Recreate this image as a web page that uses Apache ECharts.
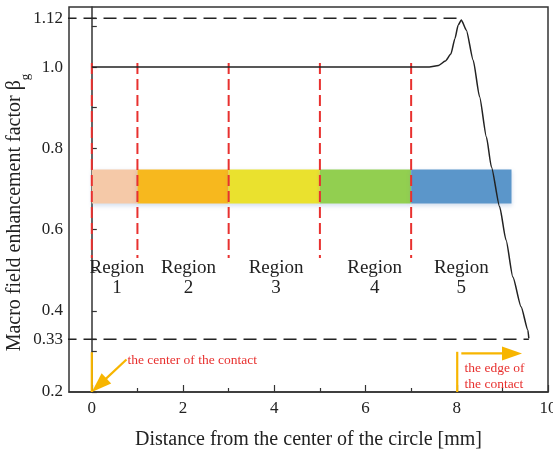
<!DOCTYPE html>
<html>
<head>
<meta charset="utf-8">
<script src="https://cdn.jsdelivr.net/npm/echarts@6/dist/echarts.min.js"></script>
<style>html,body{margin:0;padding:0;background:#fff}#c{width:553px;height:450px}</style>
</head>
<body>
<div id="c"></div>
<script>
// ---- data ----
var curveX = [0, 7.4, 7.6, 7.75, 7.87, 7.96, 8.03, 8.1, 8.21, 8.36, 8.5, 8.65, 8.76, 8.94, 9.08, 9.23, 9.41, 9.56, 9.58];
var curveY = [1.0, 1.0, 1.004, 1.015, 1.032, 1.07, 1.103, 1.116, 1.091, 1.017, 0.927, 0.828, 0.754, 0.656, 0.574, 0.483, 0.41, 0.352, 0.332];
var refLevels = [1.12, 0.33];
var refEndX = [8.1, 9.58];
var regionStart = [0, 1, 3, 5, 7];
var regionEnd = [1, 3, 5, 7, 9.2];
var bandLow = 0.664, bandHigh = 0.748;
var dividerX = [0, 1, 3, 5, 7];
var dividerTop = 1.01, dividerBottom = 0.53;
var regionNames = ['1', '2', '3', '4', '5'];
var regionLabelX = [0.55, 2.12, 4.04, 6.2, 8.1];
var regionLabelY = 0.48;
var xTickLabels = [0, 2, 4, 6, 8, 10];
var xMinorTicks = [1, 3, 5, 7, 9];
var yTickLabels = [0.2, 0.33, 0.4, 0.6, 0.8, 1.0, 1.12];
var yTicks = [0.2, 0.3, 0.33, 0.4, 0.5, 0.6, 0.7, 0.8, 0.9, 1.0, 1.1, 1.12];
// arrows: [x1, y1, x2, y2, hasHead]
var arrows = [
  [0, 0.298, 0, 0.2, 0],
  [0.76, 0.28, 0, 0.2, 1],
  [8.01, 0.299, 8.01, 0.2, 0],
  [8.1, 0.295, 9.43, 0.295, 1]
];
var notes = [
  {x: 0.78, y: 0.277, text: 'the center of the contact'},
  {x: 8.17, y: 0.239, text: 'the edge of\nthe contact'}
];

// ---- styles ----
var regionColors = ['#F5C9A8', '#F7B81E', '#EAE12E', '#92CF50', '#5B96CA'];
var FONT = 'Liberation Serif';
var RED = '#E8312F', YEL = '#F7B500', INK = '#222';

var series = [];
// colored band
series.push({
  type: 'custom', z: 2,
  data: regionStart.map(function (s, i) { return [s, regionEnd[i], bandLow, bandHigh, i]; }),
  renderItem: function (params, api) {
    var p0 = api.coord([api.value(0), api.value(3)]);
    var p1 = api.coord([api.value(1), api.value(2)]);
    return {
      type: 'rect',
      shape: {x: p0[0], y: p0[1], width: p1[0] - p0[0], height: p1[1] - p0[1]},
      style: {fill: regionColors[api.value(4)], shadowBlur: 4, shadowOffsetY: 2, shadowColor: 'rgba(90,130,190,0.25)'}
    };
  }
});
// red dashed dividers
dividerX.forEach(function (x) {
  series.push({
    type: 'line', z: 3, symbol: 'none', silent: true,
    data: [[x, dividerTop], [x, dividerBottom]],
    lineStyle: {color: RED, width: 2, type: [11, 5]}
  });
});
// black dashed reference lines
refLevels.forEach(function (v, i) {
  series.push({
    type: 'line', z: 3, symbol: 'none', silent: true, clip: false,
    data: [[-0.62, v], [refEndX[i], v]],
    lineStyle: {color: INK, width: 1.5, type: [13, 7]}
  });
});
// main curve
series.push({
  type: 'line', z: 5, symbol: 'none', smooth: 0.2, smoothMonotone: 'x', silent: true,
  data: curveX.map(function (x, i) { return [x, curveY[i]]; }),
  lineStyle: {color: INK, width: 1.5}
});
// arrows
series.push({
  type: 'custom', z: 6, clip: false,
  data: arrows,
  renderItem: function (params, api) {
    var a = api.coord([api.value(0), api.value(1)]);
    var b = api.coord([api.value(2), api.value(3)]);
    var head = api.value(4);
    var dx = b[0] - a[0], dy = b[1] - a[1];
    var L = Math.sqrt(dx * dx + dy * dy) || 1;
    var ux = dx / L, uy = dy / L;
    var hl = 20, hw = 7;
    var end = head ? [b[0] - ux * hl * 0.7, b[1] - uy * hl * 0.7] : b;
    var children = [{
      type: 'line', shape: {x1: a[0], y1: a[1], x2: end[0], y2: end[1]},
      style: {stroke: YEL, lineWidth: 2.2}
    }];
    if (head) {
      var bx = b[0] - ux * hl, by = b[1] - uy * hl;
      children.push({
        type: 'polygon',
        shape: {points: [[b[0], b[1]], [bx - uy * hw, by + ux * hw], [bx + uy * hw, by - ux * hw]]},
        style: {fill: YEL}
      });
    }
    return {type: 'group', children: children};
  }
});
// region labels
series.push({
  type: 'scatter', z: 7, symbolSize: 0, silent: true,
  itemStyle: {opacity: 1},
  data: regionLabelX.map(function (x, i) { return {value: [x, regionLabelY], name: regionNames[i]}; }),
  label: {
    show: true, position: 'inside', formatter: function (p) { return 'Region\n' + p.name; },
    fontFamily: FONT, fontSize: 19, color: INK, opacity: 1, lineHeight: 20, align: 'center'
  }
});
// notes
series.push({
  type: 'scatter', z: 7, symbolSize: 0, silent: true,
  itemStyle: {opacity: 1},
  data: notes.map(function (n) { return {value: [n.x, n.y], name: n.text}; }),
  label: {
    show: true, position: 'inside', formatter: function (p) { return p.name; },
    fontFamily: FONT, fontSize: 13.5, color: RED, opacity: 1, lineHeight: 16, align: 'left'
  }
});

var chart = echarts.init(document.getElementById('c'), null, {renderer: 'canvas'});
chart.setOption({
  animation: false,
  backgroundColor: '#fff',
  grid: {left: 69, right: 5, top: 7, bottom: 58, outerBoundsMode: 'none', containLabel: false, show: true, borderColor: '#333', borderWidth: 1.5, backgroundColor: 'transparent'},
  xAxis: [{
    type: 'value', min: -0.5, max: 10,
    name: 'Distance from the center of the circle [mm]', nameLocation: 'middle', nameGap: 38, nameMoveOverlap: false,
    nameTextStyle: {fontFamily: FONT, fontSize: 20, color: INK},
    axisLine: {show: true, lineStyle: {color: '#333', width: 1.5}},
    axisTick: {show: true, inside: true, length: 7, customValues: xTickLabels, lineStyle: {color: '#333', width: 1.2}},
    axisLabel: {customValues: xTickLabels, fontFamily: FONT, fontSize: 17, color: INK, margin: 8},
    splitLine: {show: false}
  }, {
    type: 'value', min: -0.5, max: 10, position: 'bottom',
    axisLine: {show: false},
    axisTick: {show: true, inside: true, length: 4, customValues: xMinorTicks, lineStyle: {color: '#333', width: 1.2}},
    axisLabel: {show: false}, splitLine: {show: false}
  }],
  yAxis: {
    type: 'value', min: 0.2, max: 1.148,
    name: 'Macro field enhancement factor β{sub|g}', nameLocation: 'middle', nameGap: 44, nameRotate: 90, nameMoveOverlap: false,
    nameTextStyle: {fontFamily: FONT, fontSize: 20, color: INK, padding: [0, 26, 0, 0], rich: {sub: {fontFamily: FONT, fontSize: 13, color: INK, verticalAlign: 'bottom', padding: [0, 0, -7, 0]}}},
    axisLine: {show: true, lineStyle: {color: '#333', width: 1.5}},
    axisTick: {show: true, inside: true, length: 5, customValues: yTicks, lineStyle: {color: '#333', width: 1.2}},
    axisLabel: {
      customValues: yTickLabels, fontFamily: FONT, fontSize: 17, color: INK, margin: 6,
      formatter: function (v) {
        return (Math.abs(v - 0.33) < 1e-6 || Math.abs(v - 1.12) < 1e-6) ? v.toFixed(2) : v.toFixed(1);
      }
    },
    splitLine: {show: false}
  },
  series: series
});
</script>
</body>
</html>
